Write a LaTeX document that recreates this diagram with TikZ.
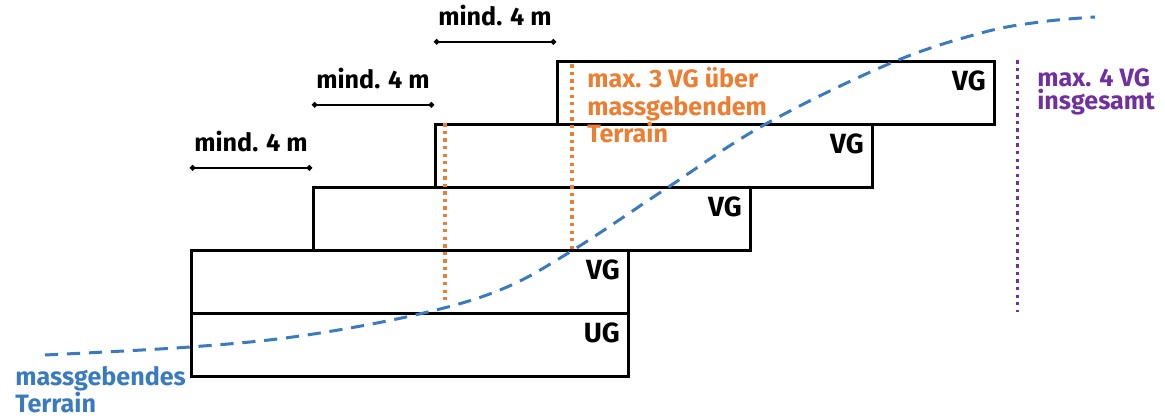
\documentclass[tikz,border=0pt]{standalone}
\usepackage{fontspec}
\setmainfont{Fira Sans}
\usepackage{tikz}
\usetikzlibrary{arrows.meta, positioning, calc}
\definecolor{orangeVG}{HTML}{ED7D31}
\definecolor{violettVG}{HTML}{7030A0}
\definecolor{blauTerrain}{HTML}{3A7BBF}

\begin{document}
\begin{tikzpicture}[
  font=\bfseries\fontsize{14.3}{15.6}\selectfont,
  geschoss/.style={draw, line width=1.5pt, minimum width=8.74cm, minimum height=1.26cm, anchor=south west, inner sep=0, fill=white},
  bez/.style={anchor=north east, inner sep=0, font=\bfseries\fontsize{15.8}{18}\selectfont},
  masskette/.style={line width=1.1pt, {Circle[length=3pt]}-{Circle[length=3pt]}},
  punktiert/.style={line width=1.9pt, dash pattern=on 1.9pt off 2.4pt}
]
  \useasboundingbox (0,0) rectangle (23.3,8.38);
  % Geschosse
  \node[geschoss] (ug) at (3.8,0.82) {};
  \node[geschoss] (vg1) at (3.8,2.08) {};
  \node[geschoss] (vg2) at (6.24,3.34) {};
  \node[geschoss] (vg3) at (8.68,4.60) {};
  \node[geschoss] (vg4) at (11.12,5.86) {};
  \foreach \g/\t in {ug/UG, vg1/VG, vg2/VG, vg3/VG, vg4/VG}
    \node[bez] (\g-bez) at ([shift={(-0.19,-0.2)}]\g.north east) {\t};
  % Rueckspruenge
  \foreach \a/\b in {vg1/vg2, vg2/vg3, vg3/vg4} {
    \coordinate (\b-r) at ([yshift=3.7mm]\b.north west);
    \coordinate (\b-l) at (\b-r -| \a.west);
    \draw[masskette] (\b-l) -- node[above=3mm, inner sep=0] (\b-mass) {mind. 4 m} (\b-r);
  }
  % massgebendes Terrain
  \draw[blauTerrain, line width=1.7pt, dash pattern=on 7.5pt off 5pt] plot[smooth, tension=0.6] coordinates {(0.9,1.28) (3.8,1.44) (6.0,1.66) (8.3,2.08) (10.0,2.58) (11.4,3.34) (13.28,4.58) (15.28,5.88) (17.82,7.12) (19.62,7.72) (20.8,7.94) (21.9,8.04)};
  \node[anchor=north west, inner sep=0, align=left, blauTerrain, font=\bfseries\fontsize{14.3}{15.3}\selectfont] (terrain) at (0.3,1.05) {massgebendes\\Terrain};
  % max. 3 VG ueber Terrain
  \coordinate (o1o) at ([xshift=2.2mm]vg3.north west);
  \coordinate (o1u) at ([yshift=-3.54cm]o1o);
  \draw[punktiert, orangeVG] (o1o) -- (o1u);
  \coordinate (o2o) at ([shift={(3.2mm,-0.8mm)}]vg4.north west);
  \coordinate (o2u) at (o2o |- vg1.north);
  \draw[punktiert, orangeVG] (o2o) -- (o2u);
  \node[anchor=north west, inner sep=0, align=left, orangeVG] (max3) at ([shift={(0.3,-0.06)}]o2o) {max. 3 VG über\\massgebendem\\Terrain};
  % max. 4 VG insgesamt
  \coordinate (p-o) at ([xshift=4.4mm]vg4.north east);
  \coordinate (p-u) at (p-o |- ug.north);
  \draw[punktiert, violettVG] (p-o) -- (p-u);
  \node[anchor=north west, inner sep=0, align=left, violettVG, font=\bfseries\fontsize{14.3}{13.2}\selectfont] (max4) at (20.74,7.02) {max. 4 VG\\insgesamt};
\end{tikzpicture}
\end{document}
